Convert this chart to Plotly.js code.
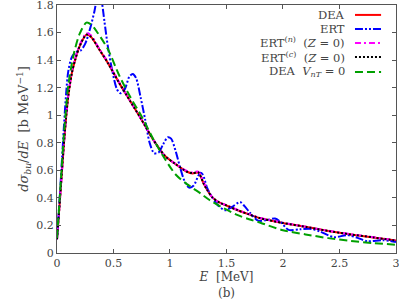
<!DOCTYPE html>
<html>
<head>
<meta charset="utf-8">
<script src="https://cdn.plot.ly/plotly-3.0.1.min.js"></script>
<style>html,body{margin:0;padding:0;background:#fff}#chart{width:399px;height:303px}</style>
</head>
<body>
<div id="chart"></div>
<script>
// DEA (full)
const deaE = [0, 0.02, 0.04, 0.06, 0.08, 0.1, 0.13, 0.16, 0.2, 0.26, 0.3, 0.38, 0.45, 0.55, 0.65, 0.75, 0.85, 0.95, 1.05, 1.15, 1.2, 1.25, 1.3, 1.33, 1.38, 1.44, 1.5, 1.6, 1.7, 1.8, 2.0, 2.2, 2.4, 2.6, 2.8, 3.0];
const deaY = [0.1, 0.32, 0.55, 0.78, 0.98, 1.14, 1.30, 1.40, 1.50, 1.585, 1.57, 1.47, 1.38, 1.235, 1.10, 0.965, 0.825, 0.71, 0.645, 0.59, 0.578, 0.583, 0.50, 0.457, 0.40, 0.365, 0.345, 0.31, 0.28, 0.252, 0.218, 0.19, 0.16, 0.135, 0.113, 0.09];
// ERT
const ertE = [0, 0.02, 0.04, 0.06, 0.08, 0.1, 0.13, 0.17, 0.21, 0.25, 0.29, 0.33, 0.355, 0.375, 0.395, 0.42, 0.45, 0.49, 0.53, 0.56, 0.6, 0.64, 0.67, 0.7, 0.74, 0.78, 0.82, 0.86, 0.9, 0.94, 0.98, 1.01, 1.05, 1.09, 1.13, 1.17, 1.21, 1.25, 1.27, 1.29, 1.33, 1.37, 1.42, 1.49, 1.55, 1.62, 1.66, 1.71, 1.78, 1.86, 1.93, 1.98, 2.05, 2.15, 2.25, 2.33, 2.45, 2.57, 2.66, 2.75, 2.88, 3.0];
const ertY = [0.1, 0.35, 0.62, 0.9, 1.15, 1.32, 1.42, 1.46, 1.47, 1.52, 1.62, 1.75, 1.85, 1.88, 1.83, 1.68, 1.50, 1.32, 1.19, 1.16, 1.19, 1.28, 1.30, 1.27, 1.13, 0.97, 0.80, 0.725, 0.73, 0.79, 0.84, 0.83, 0.74, 0.62, 0.52, 0.475, 0.49, 0.56, 0.583, 0.57, 0.47, 0.41, 0.35, 0.31, 0.335, 0.37, 0.34, 0.29, 0.235, 0.24, 0.25, 0.225, 0.168, 0.172, 0.175, 0.155, 0.115, 0.13, 0.11, 0.085, 0.093, 0.08];
// ERT(n) (Z=0)
const ertnE = [0, 0.02, 0.04, 0.06, 0.08, 0.1, 0.13, 0.16, 0.2, 0.26, 0.3, 0.38, 0.45, 0.55, 0.65, 0.75, 0.85, 0.95, 1.05, 1.15, 1.2, 1.25, 1.3, 1.33, 1.38, 1.44, 1.5, 1.6, 1.7, 1.8, 2.0, 2.2, 2.4, 2.6, 2.8, 3.0];
const ertnY = [0.1, 0.32, 0.55, 0.78, 0.98, 1.15, 1.31, 1.41, 1.51, 1.595, 1.58, 1.475, 1.385, 1.24, 1.10, 0.965, 0.825, 0.71, 0.645, 0.595, 0.585, 0.59, 0.51, 0.46, 0.40, 0.365, 0.347, 0.312, 0.282, 0.254, 0.22, 0.19, 0.162, 0.137, 0.115, 0.092];
// ERT(c) (Z=0)
const ertcE = [0, 0.02, 0.04, 0.06, 0.08, 0.1, 0.13, 0.16, 0.2, 0.26, 0.3, 0.38, 0.45, 0.55, 0.65, 0.75, 0.85, 0.95, 1.05, 1.15, 1.2, 1.25, 1.3, 1.33, 1.38, 1.44, 1.5, 1.6, 1.7, 1.8, 2.0, 2.2, 2.4, 2.6, 2.8, 3.0];
const ertcY = [0.1, 0.32, 0.55, 0.78, 0.98, 1.14, 1.30, 1.40, 1.50, 1.585, 1.57, 1.47, 1.38, 1.235, 1.10, 0.965, 0.825, 0.71, 0.645, 0.59, 0.58, 0.585, 0.50, 0.457, 0.40, 0.365, 0.345, 0.31, 0.28, 0.252, 0.218, 0.19, 0.16, 0.135, 0.113, 0.09];
// DEA V_nT = 0
const dea0E = [0, 0.02, 0.04, 0.06, 0.08, 0.1, 0.15, 0.2, 0.26, 0.3, 0.35, 0.45, 0.55, 0.65, 0.75, 0.85, 0.95, 1.05, 1.15, 1.27, 1.35, 1.45, 1.6, 1.7, 1.8, 2.0, 2.2, 2.4, 2.6, 2.8, 3.0];
const dea0Y = [0.11, 0.35, 0.6, 0.85, 1.05, 1.22, 1.45, 1.59, 1.672, 1.66, 1.61, 1.48, 1.29, 1.13, 0.99, 0.83, 0.69, 0.57, 0.50, 0.433, 0.385, 0.336, 0.275, 0.245, 0.22, 0.165, 0.135, 0.108, 0.088, 0.072, 0.06];

const xTicks = [0, 0.5, 1, 1.5, 2, 2.5, 3];
const xTickText = ['0', '0.5', '1', '1.5', '2', '2.5', '3'];
const yTicks = [0, 0.2, 0.4, 0.6, 0.8, 1, 1.2, 1.4, 1.6, 1.8];
const yTickText = ['0', '0.2', '0.4', '0.6', '0.8', '1', '1.2', '1.4', '1.6', '1.8'];

const names = ['DEA', 'ERT', 'ERT<sup>(<i>n</i>)</sup>  (<i>Z</i> = 0)', 'ERT<sup>(<i>c</i>)</sup>  (<i>Z</i> = 0)', 'DEA  <i>V<sub>nT</sub></i> = 0'];
const colors = ['#ff0000', '#0000ff', '#ff00ff', '#000000', '#00a000'];
const dashes = ['solid', '8px,2px,2px,2px,2px,2px', '6px,3px,2px,3px', '2px,2px', '8px,4px'];
const xs = [deaE, ertE, ertnE, ertcE, dea0E];
const ys = [deaY, ertY, ertnY, ertcY, dea0Y];

const traces = xs.map((x, i) => ({
  x: x, y: ys[i], type: 'scatter', mode: 'lines', name: names[i],
  line: {color: colors[i], width: 2, dash: dashes[i], shape: 'spline', smoothing: 0.8},
  showlegend: false
}));

const FAM = '"DejaVu Serif", "Liberation Serif", serif';
const tickFont = {family: FAM, size: 11, color: '#444'};
const legFont = {family: FAM, size: 11.5, color: '#444'};
const titleFont = {family: FAM, size: 12, color: '#444'};
const yTitleFont = {family: FAM, size: 13, color: '#444'};
const annotations = [];
const shapes = [];
const rowY = [0.960, 0.903, 0.847, 0.790, 0.730];
names.forEach((n, i) => {
  annotations.push({xref: 'paper', yref: 'paper', x: 0.855, y: rowY[i], text: n, showarrow: false,
    xanchor: 'right', yanchor: 'middle', font: legFont});
  shapes.push({type: 'line', xref: 'paper', yref: 'paper', x0: 0.879, x1: 0.956, y0: rowY[i], y1: rowY[i],
    line: {color: colors[i], width: 2, dash: dashes[i]}});
});

const axisCommon = {showgrid: false, zeroline: false, showline: true, linecolor: '#555', linewidth: 1,
  mirror: 'ticks', ticks: 'inside', ticklen: 4, tickcolor: '#555', tickfont: tickFont,
  ticklabeloverflow: 'allow'};

const layout = {
  width: 399, height: 303,
  margin: {l: 57, r: 3, t: 5, b: 50},
  paper_bgcolor: '#fff', plot_bgcolor: '#fff',
  font: tickFont,
  xaxis: Object.assign({}, axisCommon, {range: [0, 3.0005], tickmode: 'array', tickvals: xTicks, ticktext: xTickText,
    title: {text: '<i>E</i>  [MeV]<br>(b)', font: titleFont, standoff: 2}}),
  yaxis: Object.assign({}, axisCommon, {range: [0, 1.8003], tickmode: 'array', tickvals: yTicks, ticktext: yTickText,
    title: {text: '<i>dσ<sub>bu</sub></i>/<i>dE</i>  [b MeV<sup>−1</sup>]', font: yTitleFont, standoff: 4}}),
  annotations: annotations,
  shapes: shapes
};

Plotly.newPlot('chart', traces, layout, {displayModeBar: false, staticPlot: true});
</script>
</body>
</html>
